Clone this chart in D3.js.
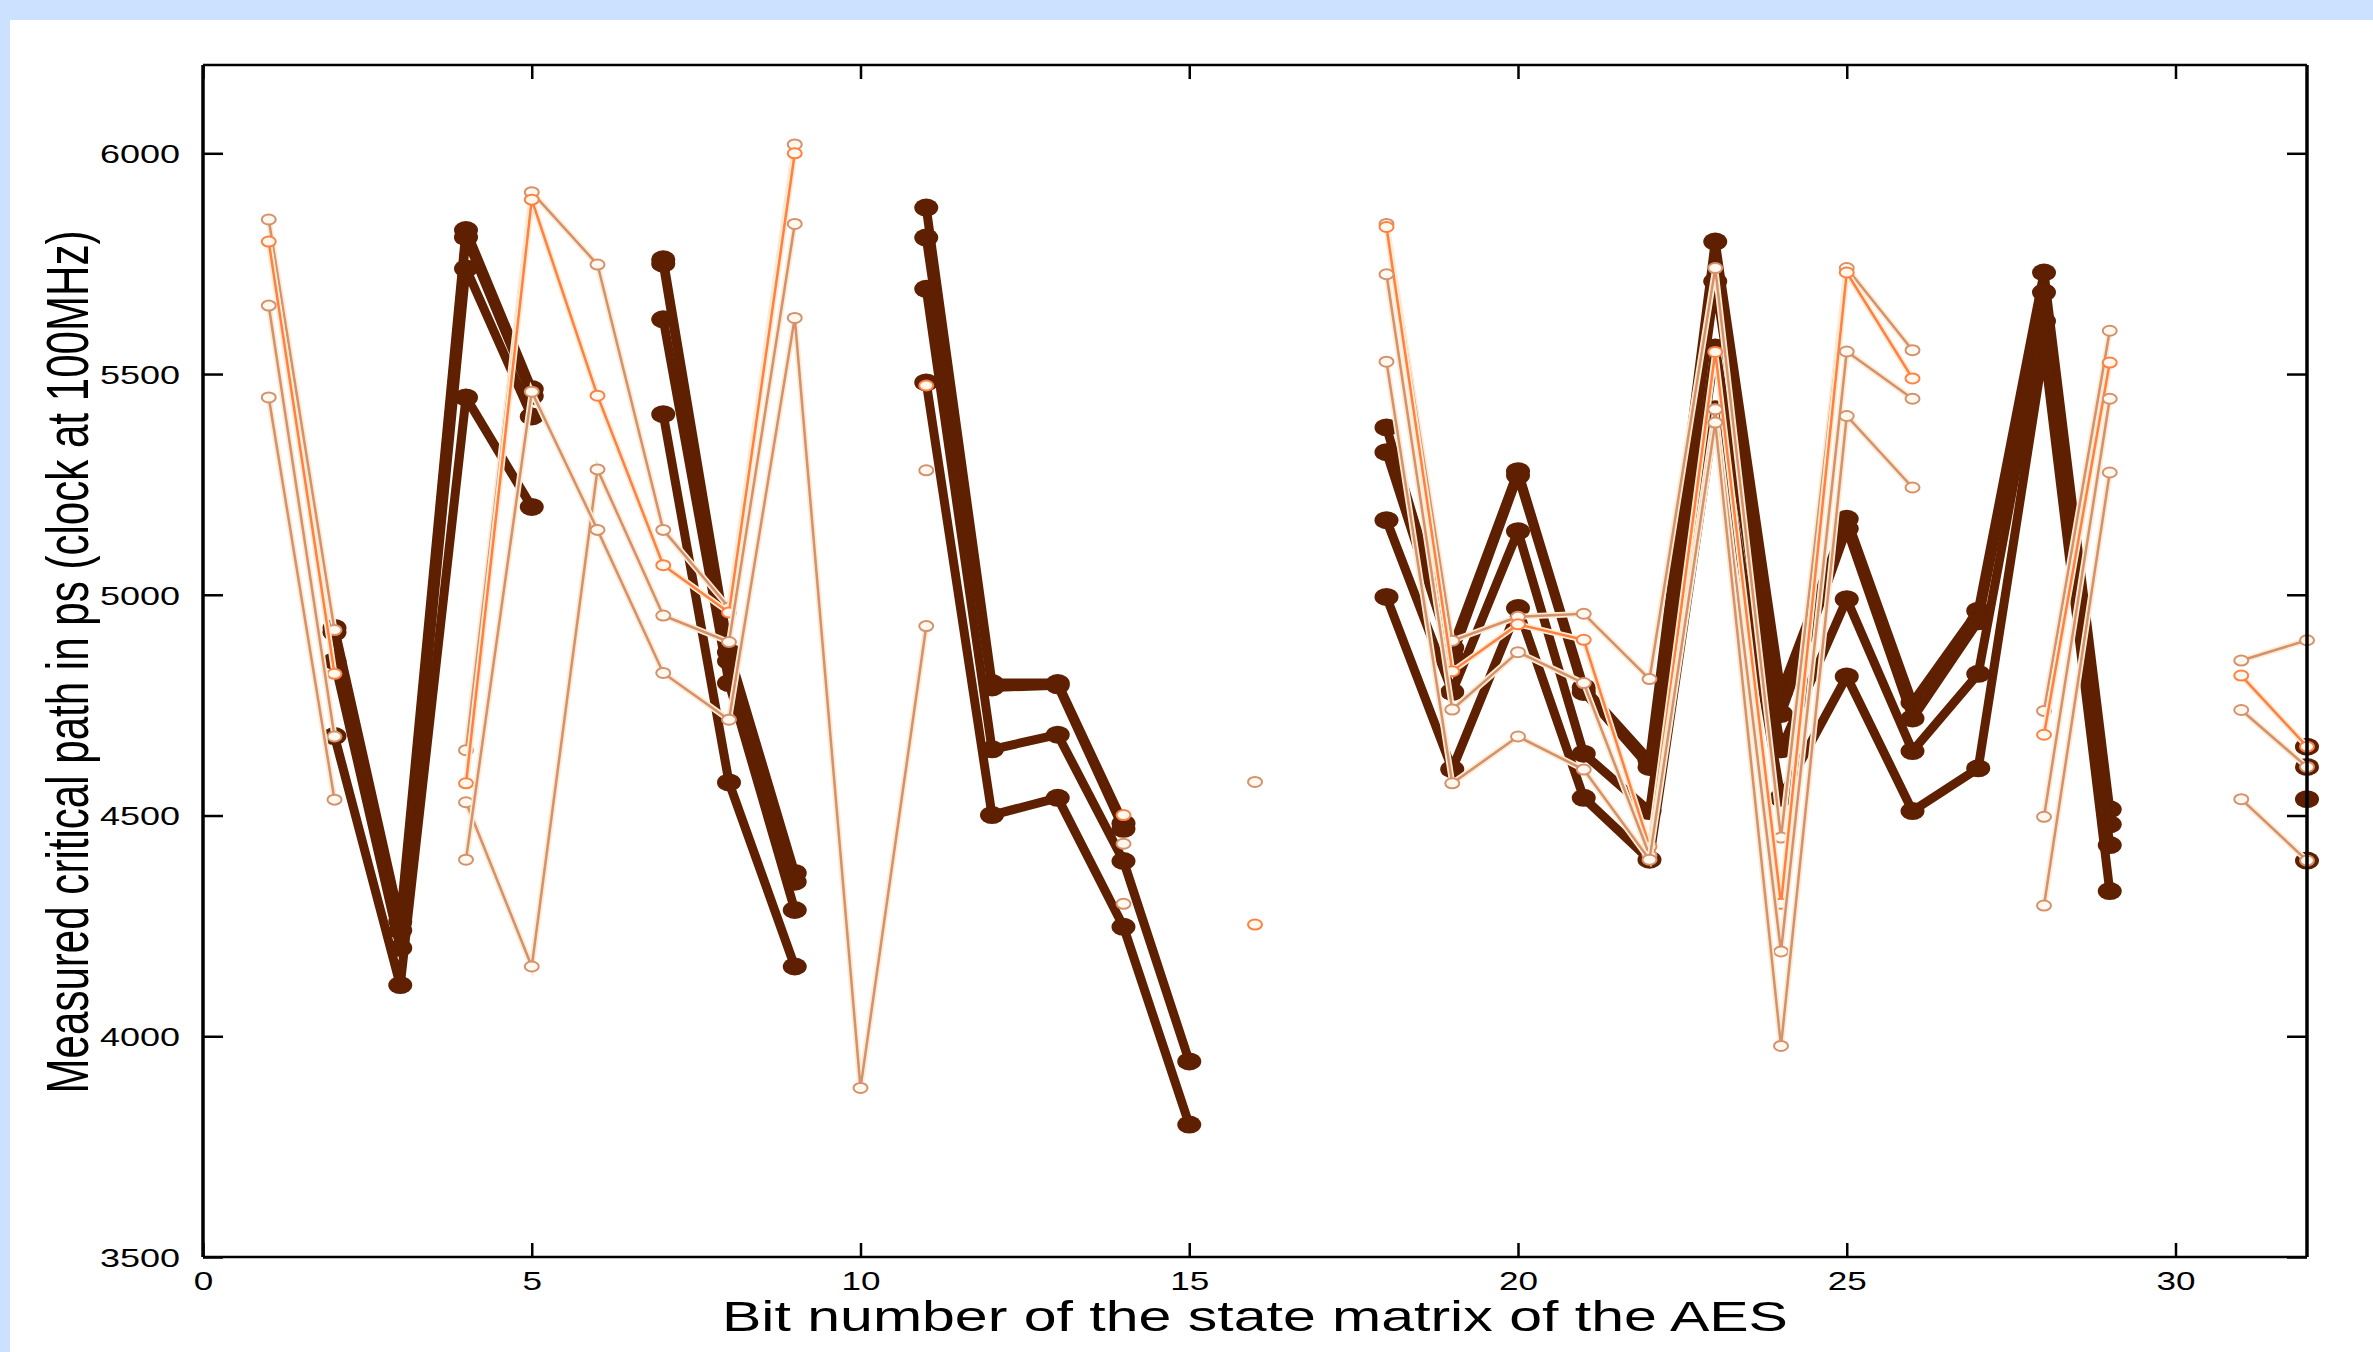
<!DOCTYPE html>
<html>
<head>
<meta charset="utf-8">
<script src="https://cdn.jsdelivr.net/npm/d3@7"></script>
<style>
  html, body { margin: 0; padding: 0; background: #fff; }
  svg { display: block; }
</style>
</head>
<body>
<svg id="chart" width="2373" height="1352"></svg>
<script>
'use strict';

// bit numbers 1..32, one value per bit, null = not measured
var bits = d3.range(1, 33);
var xTicks = [0, 5, 10, 15, 20, 25, 30];
var yTicks = [3500, 4000, 4500, 5000, 5500, 6000];

// dark curves (filled markers)
var dark1 = [null,4925,4260,5826,5466,null,5760,4870,4370,null,5877,4800,4800,4482,null,null,null,5379,4880,5280,4790,4625,5800,4780,5172,4756,4964,5730,4514,null,null,4656];
var dark2 = [null,4915,4240,5810,5450,null,5750,4850,4350,null,5809,4790,4795,4470,null,null,null,5323,4860,5270,4780,4610,5710,4730,5150,4720,4940,5685,4480,null,null,4610];
var dark3 = [null,4850,4200,5739,5404,null,5624,4800,4286,null,5693,4650,4683,4397,3943,null,null,5169,4780,5144,4640,4510,5560,4650,4990,4646,4821,5620,4433,null,null,4537];
var dark4 = [null,4680,4116,5447,5199,null,5409,4575,4158,null,5481,4501,4540,4248,3800,null,null,4995,4605,4970,4540,4400,5420,4540,4815,4510,4607,5560,4329,null,null,4398];

// light curves (open markers)
var light1 = [5850,4920,null,4648,5912,5748,5147,4971,6020,null,null,null,null,4436,null,4576,null,5840,4896,4950,4957,4809,5740,4450,5740,5554,null,4737,5598,null,4851,4897];
var light2 = [5800,4821,null,4573,5895,5451,5067,4960,6000,null,5474,null,null,4501,null,4253,null,5833,4827,4933,4898,4430,5550,4300,5730,5490,null,4683,5526,null,4817,4656];
var light3 = [5655,4679,null,4530,4158,5284,4953,4893,5840,null,5282,null,null,4300,null,null,null,5726,4740,4870,4800,4410,5420,4192,5551,5444,null,4497,5444,null,4739,4610];
var light4 = [5447,4536,null,4400,5460,5147,4823,4717,5627,3883,4929,null,null,null,null,null,null,5528,4573,4679,4604,4400,5390,3978,5405,5243,null,4296,5277,null,4537,4398];

var darkColor = "#5e2000";
var tanColor = "#d4916c";
var orangeColor = "#ff8040";
var haloColor = "#fdebd4";

var darkSeries = [dark1, dark2, dark3, dark4];
var lightSeries = [
  {values: light1, color: tanColor},
  {values: light2, color: orangeColor},
  {values: light3, color: tanColor},
  {values: light4, color: tanColor}
];

var svg = d3.select("#chart");

// light blue page frame
svg.append("rect").attr("x", 0).attr("y", 0).attr("width", 2373).attr("height", 1352).attr("fill", "#fff");
svg.append("rect").attr("x", 0).attr("y", 0).attr("width", 2373).attr("height", 20).attr("fill", "#cce0ff");
svg.append("rect").attr("x", 0).attr("y", 0).attr("width", 10).attr("height", 1352).attr("fill", "#cce0ff");

var plotLeft = 203, plotRight = 2307, plotTop = 65, plotBottom = 1257;

var x = d3.scaleLinear().domain([0, 32]).range([plotLeft, plotRight]);
var y = d3.scaleLinear().domain([3500, 6200]).range([plotBottom, plotTop]);

var font = "'Liberation Sans', Arial, Helvetica, sans-serif";

function toPoints(vals) {
  return bits.map(function (b, i) { return {b: b, v: vals[i]}; });
}

var line = d3.line()
  .defined(function (d) { return d.v != null; })
  .x(function (d) { return x(d.b); })
  .y(function (d) { return y(d.v); });

// dark curves
var gDark = svg.append("g").attr("class", "dark");
darkSeries.forEach(function (vals) {
  var pts = toPoints(vals);
  gDark.append("path")
    .datum(pts)
    .attr("d", line)
    .attr("fill", "none")
    .attr("stroke", darkColor)
    .attr("stroke-width", 9)
    .attr("stroke-linejoin", "round");
  gDark.selectAll(null)
    .data(pts.filter(function (d) { return d.v != null; }))
    .enter().append("ellipse")
    .attr("cx", function (d) { return x(d.b); })
    .attr("cy", function (d) { return y(d.v); })
    .attr("rx", 12)
    .attr("ry", 9)
    .attr("fill", darkColor);
});

// light curves
var gLight = svg.append("g").attr("class", "light");
lightSeries.forEach(function (s) {
  var pts = toPoints(s.values);
  gLight.append("path")
    .datum(pts)
    .attr("d", line)
    .attr("fill", "none")
    .attr("stroke", haloColor)
    .attr("stroke-width", 6);
  gLight.append("path")
    .datum(pts)
    .attr("d", line)
    .attr("fill", "none")
    .attr("stroke", s.color)
    .attr("stroke-width", 2.5);
  gLight.selectAll(null)
    .data(pts.filter(function (d) { return d.v != null; }))
    .enter().append("ellipse")
    .attr("cx", function (d) { return x(d.b); })
    .attr("cy", function (d) { return y(d.v); })
    .attr("rx", 7)
    .attr("ry", 5)
    .attr("fill", "#fff8ef")
    .attr("stroke", s.color)
    .attr("stroke-width", 2);
});

// axes, ticks pointing inwards
var gx = svg.append("g")
  .attr("transform", "translate(0," + plotBottom + ")")
  .call(d3.axisBottom(x).tickValues(xTicks).tickSizeInner(-14).tickSizeOuter(0).tickFormat(d3.format("d")));
gx.select(".domain").remove();
gx.selectAll(".tick line").attr("stroke", "#000").attr("stroke-width", 2.5);
gx.selectAll("text")
  .attr("y", 33).attr("dy", null)
  .attr("font-family", font).attr("font-size", 25).attr("fill", "#000")
  .attr("textLength", function (d) { return String(d).length * 19.5; })
  .attr("lengthAdjust", "spacingAndGlyphs");

var gxTop = svg.append("g")
  .attr("transform", "translate(0," + plotTop + ")")
  .call(d3.axisTop(x).tickValues(xTicks).tickSizeInner(-14).tickSizeOuter(0).tickFormat(""));
gxTop.select(".domain").remove();
gxTop.selectAll(".tick line").attr("stroke", "#000").attr("stroke-width", 2.5);

var gy = svg.append("g")
  .attr("transform", "translate(" + plotLeft + ",0)")
  .call(d3.axisLeft(y).tickValues(yTicks).tickSizeInner(-20).tickSizeOuter(0).tickFormat(d3.format("d")));
gy.select(".domain").remove();
gy.selectAll(".tick line").attr("stroke", "#000").attr("stroke-width", 2.5);
gy.selectAll("text")
  .attr("x", -23).attr("dy", "0.37em")
  .attr("font-family", font).attr("font-size", 25).attr("fill", "#000")
  .attr("textLength", 80)
  .attr("lengthAdjust", "spacingAndGlyphs");

var gyRight = svg.append("g")
  .attr("transform", "translate(" + plotRight + ",0)")
  .call(d3.axisRight(y).tickValues(yTicks).tickSizeInner(-20).tickSizeOuter(0).tickFormat(""));
gyRight.select(".domain").remove();
gyRight.selectAll(".tick line").attr("stroke", "#000").attr("stroke-width", 2.5);

// frame
svg.append("line").attr("x1", plotLeft).attr("x2", plotRight).attr("y1", plotTop).attr("y2", plotTop)
  .attr("stroke", "#000").attr("stroke-width", 2.5);
svg.append("line").attr("x1", plotLeft).attr("x2", plotRight).attr("y1", plotBottom).attr("y2", plotBottom)
  .attr("stroke", "#000").attr("stroke-width", 2.5);
svg.append("line").attr("x1", plotLeft).attr("x2", plotLeft).attr("y1", plotTop).attr("y2", plotBottom)
  .attr("stroke", "#000").attr("stroke-width", 3.5);
svg.append("line").attr("x1", plotRight).attr("x2", plotRight).attr("y1", plotTop).attr("y2", plotBottom)
  .attr("stroke", "#000").attr("stroke-width", 3.5);

// axis titles
svg.append("text")
  .attr("x", 1255).attr("y", 1331)
  .attr("text-anchor", "middle")
  .attr("font-family", font).attr("font-size", 42).attr("fill", "#000")
  .attr("textLength", 1066).attr("lengthAdjust", "spacingAndGlyphs")
  .text("Bit number of the state matrix of the AES");

// y title: glyphs are narrow along the text and tall across it,
// so size it by its length and stretch it across with a scale
var yTitle = svg.append("text")
  .attr("text-anchor", "middle")
  .attr("font-family", font).attr("font-size", 40).attr("fill", "#000")
  .text("Measured critical path in ps (clock at 100MHz)");
var natural = yTitle.node().getComputedTextLength() || 880;
var fs = 40 * 863 / natural;
var sx = 60 / fs;
yTitle.attr("font-size", fs)
  .attr("transform", "translate(88,662) scale(" + sx + ",1) rotate(-90)");
</script>
</body>
</html>
